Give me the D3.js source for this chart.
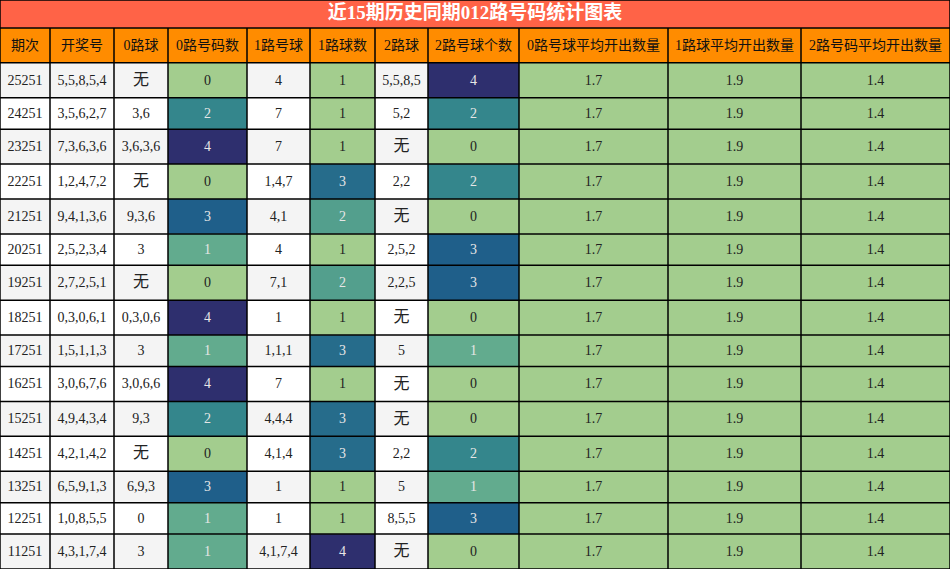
<!DOCTYPE html>
<html><head><meta charset="utf-8">
<script src="https://cdn.jsdelivr.net/npm/d3@7"></script>
<style>body{margin:0;background:#fff}</style></head>
<body><svg id="c" width="950" height="569"></svg>
<script>
const title = "近15期历史同期012路号码统计图表";
const headers = ["期次","开奖号","0路球","0路号码数","1路号球","1路球数","2路球","2路号球个数","0路号球平均开出数量","1路球平均开出数量","2路号码平均开出数量"];
const periods = ["25251","24251","23251","22251","21251","20251","19251","18251","17251","16251","15251","14251","13251","12251","11251"];
const draws = ["5,5,8,5,4","3,5,6,2,7","7,3,6,3,6","1,2,4,7,2","9,4,1,3,6","2,5,2,3,4","2,7,2,5,1","0,3,0,6,1","1,5,1,1,3","3,0,6,7,6","4,9,4,3,4","4,2,1,4,2","6,5,9,1,3","1,0,8,5,5","4,3,1,7,4"];
const r0 = ["无","3,6","3,6,3,6","无","9,3,6","3","无","0,3,0,6","3","3,0,6,6","9,3","无","6,9,3","0","3"];
const c0 = [0,2,4,0,3,1,0,4,1,4,2,0,3,1,1];
const r1 = ["4","7","7","1,4,7","4,1","4","7,1","1","1,1,1","7","4,4,4","4,1,4","1","1","4,1,7,4"];
const c1 = [1,1,1,3,2,1,2,1,3,1,3,3,1,1,4];
const r2 = ["5,5,8,5","5,2","无","2,2","无","2,5,2","2,2,5","无","5","无","无","2,2","5","8,5,5","无"];
const c2 = [4,2,0,2,0,3,3,0,1,0,0,2,1,3,0];
const avg0 = "1.7", avg1 = "1.9", avg2 = "1.4";

const colX = [0,50,114,168,247,310,375,428,519,668,801,950];
const palette = ["#a3cd8e","#62ab8e","#34868c","#1f5f8a","#2e2f6e"];
const svg = d3.select("#c");
const titleH = 28, headH = 35;
const rows = periods.map((p,i)=>({cells:[p,draws[i],r0[i],c0[i],r1[i],c1[i],r2[i],c2[i],avg0,avg1,avg2]}));
rows.forEach(r=>{r.h = r.cells.includes("无") ? 35 : 31.5;});
let y = titleH + headH;
rows.forEach(r=>{r.y=y; y+=r.h;});
const sy = d3.scaleLinear().domain([0,y]).range([0,569]);

function colorScale(arr){
  const mn=d3.min(arr), mx=d3.max(arr);
  const dom = palette.map((_,k)=>mn+(mx-mn)*k/(palette.length-1));
  return d3.scaleLinear().domain(dom).range(palette);
}
const scales = {3:colorScale(c0),5:colorScale(c1),7:colorScale(c2)};
const font = "'Liberation Serif','Noto Sans CJK SC',serif";

svg.append("rect").attr("x",0).attr("y",0).attr("width",950).attr("height",sy(titleH)).attr("fill","#ff6347");
svg.append("text").attr("x",475).attr("y",sy(titleH)/2+1).attr("text-anchor","middle").attr("dominant-baseline","middle")
  .attr("fill","#fff").attr("font-weight","bold").attr("font-size",19).attr("font-family",font).text(title);

headers.forEach((h,j)=>{
  svg.append("rect").attr("x",colX[j]).attr("y",sy(titleH)).attr("width",colX[j+1]-colX[j]).attr("height",sy(titleH+headH)-sy(titleH)).attr("fill","#ff8c00");
  svg.append("text").attr("x",(colX[j]+colX[j+1])/2).attr("y",(sy(titleH)+sy(titleH+headH))/2+1).attr("text-anchor","middle").attr("dominant-baseline","middle")
    .attr("font-size",14).attr("font-family",font).attr("fill","#111").text(h);
});
rows.forEach((r,i)=>{
  r.cells.forEach((v,j)=>{
    let fill = i%2===0 ? "#f4f4f4" : "#ffffff", tc="#222";
    if(scales[j]){ fill = scales[j](v); tc = v===d3.min(j===3?c0:j===5?c1:c2) ? "#222" : "#e6e6e6"; }
    if(j>=8){ fill = "#a3cd8e"; }
    const y0=sy(r.y), y1=sy(r.y+r.h);
    svg.append("rect").attr("x",colX[j]).attr("y",y0).attr("width",colX[j+1]-colX[j]).attr("height",y1-y0).attr("fill",fill);
    svg.append("text").attr("x",(colX[j]+colX[j+1])/2).attr("y",(y0+y1)/2+1).attr("text-anchor","middle").attr("dominant-baseline","middle")
      .attr("font-size",v==="无"?16:14).attr("font-family",font).attr("fill",tc).text(v);
  });
});
// grid
const lines = svg.append("g").attr("stroke","#000").attr("stroke-width",1.5);
const bounds=[0,titleH,titleH+headH,...rows.map(r=>r.y+r.h)];
bounds.forEach(b=>lines.append("line").attr("x1",0).attr("x2",950).attr("y1",sy(b)).attr("y2",sy(b)));
colX.forEach(x=>lines.append("line").attr("x1",x).attr("x2",x).attr("y1",sy(titleH)).attr("y2",569));
lines.append("line").attr("x1",0).attr("x2",0).attr("y1",0).attr("y2",sy(titleH));
lines.append("line").attr("x1",950).attr("x2",950).attr("y1",0).attr("y2",sy(titleH));
</script></body></html>
